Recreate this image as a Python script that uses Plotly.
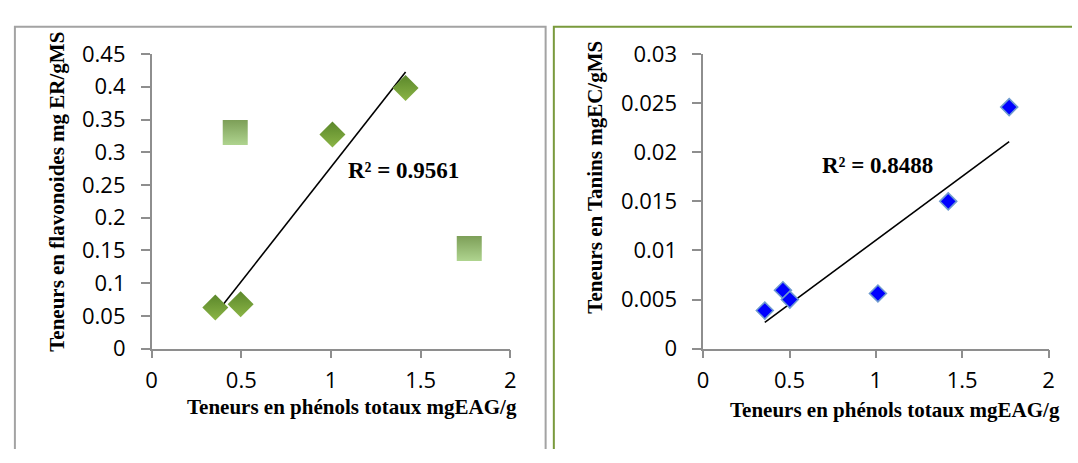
import numpy as np
import plotly.graph_objects as go

# Left panel: flavonoids vs total phenols
phenols_flav_fit = [0.355, 0.496, 1.008, 1.416]
flavonoides_fit = [0.063, 0.068, 0.327, 0.398]
phenols_flav_out = [0.466, 1.771]
flavonoides_out = [0.330, 0.153]

# Right panel: tannins vs total phenols
phenols_tan = [0.357, 0.462, 0.502, 1.012, 1.419, 1.772]
tanins = [0.00388, 0.00595, 0.00500, 0.00562, 0.01500, 0.02460]

r2_flav = "R² = 0.9561"
r2_tan = "R² = 0.8488"

x_ticks = [0, 0.5, 1, 1.5, 2]
x_ticktext = ["0", "0.5", "1", "1.5", "2"]
y1_ticks = [0, 0.05, 0.1, 0.15, 0.2, 0.25, 0.3, 0.35, 0.4, 0.45]
y1_ticktext = ["0", "0.05", "0.1", "0.15", "0.2", "0.25", "0.3", "0.35", "0.4", "0.45"]
y2_ticks = [0, 0.005, 0.01, 0.015, 0.02, 0.025, 0.03]
y2_ticktext = ["0", "0.005", "0.01", "0.015", "0.02", "0.025", "0.03"]

W, H = 1078, 463


def px(xp):
    return xp / W


def py(yp):
    return 1 - yp / H


def trend(xs, ys):
    slope, intercept = np.polyfit(xs, ys, 1)
    xe = np.array([min(xs), max(xs)])
    return xe, slope * xe + intercept


fig = go.Figure()

# trend lines
tx1, ty1 = trend(phenols_flav_fit, flavonoides_fit)
fig.add_trace(go.Scatter(x=tx1, y=ty1, mode="lines",
                         line=dict(color="black", width=1.6),
                         xaxis="x", yaxis="y", hoverinfo="skip"))
tx2, ty2 = trend(phenols_tan, tanins)
fig.add_trace(go.Scatter(x=tx2, y=ty2, mode="lines",
                         line=dict(color="black", width=1.6),
                         xaxis="x2", yaxis="y2", hoverinfo="skip"))

# markers
fig.add_trace(go.Scatter(x=phenols_flav_out, y=flavonoides_out, mode="markers",
                         marker=dict(symbol="square", size=25, color="#7D9F58",
                                     gradient=dict(type="vertical", color="#AFD48F"),
                                     line=dict(width=0)),
                         xaxis="x", yaxis="y"))
fig.add_trace(go.Scatter(x=phenols_flav_fit, y=flavonoides_fit, mode="markers",
                         marker=dict(symbol="diamond", size=20, color="#5B872B",
                                     gradient=dict(type="vertical", color="#8BB546"),
                                     line=dict(width=0)),
                         xaxis="x", yaxis="y"))
fig.add_trace(go.Scatter(x=phenols_tan, y=tanins, mode="markers",
                         marker=dict(symbol="diamond", size=13, color="#0000FF",
                                     line=dict(width=1.6, color="#6F9BD0")),
                         xaxis="x2", yaxis="y2"))

axis_common = dict(
    showgrid=False, zeroline=False, showline=True,
    linecolor="#8E8E8E", linewidth=1.5,
    ticks="outside", tickcolor="#8E8E8E", tickwidth=1.5,
    tickfont=dict(family="Open Sans", size=22, color="black"),
    fixedrange=True,
)

fig.update_layout(
    width=W, height=H,
    margin=dict(l=0, r=0, t=0, b=0),
    paper_bgcolor="white", plot_bgcolor="white",
    showlegend=False,
    xaxis=dict(domain=[px(147.3), px(510)], range=[0, 2], anchor="y",
               tickvals=x_ticks, ticktext=x_ticktext, ticklen=8,
               ticklabelstandoff=3, **axis_common),
    yaxis=dict(domain=[py(355.7), py(40.7)], range=[0, 0.45], anchor="x",
               tickvals=y1_ticks, ticktext=y1_ticktext, ticklen=9,
               ticklabelstandoff=11, **axis_common),
    xaxis2=dict(domain=[px(705), px(1054.3)], range=[0, 2], anchor="y2",
                tickvals=x_ticks, ticktext=x_ticktext, ticklen=8,
                ticklabelstandoff=3, **axis_common),
    yaxis2=dict(domain=[py(355.7), py(40.7)], range=[0, 0.03], anchor="x2",
                tickvals=y2_ticks, ticktext=y2_ticktext, ticklen=9,
                ticklabelstandoff=11, **axis_common),
)

title_font = dict(family="Liberation Serif", size=21, color="black")
r2_font = dict(family="Liberation Serif", size=23, color="black")

annotations = [
    dict(text="<b>Teneurs en flavonoides mg ER/gMS</b>", x=px(52), y=py(187.5),
         textangle=-90, font=title_font),
    dict(text="<b>Teneurs en phénols totaux mgEAG/g</b>", x=px(350), y=py(418),
         font=title_font),
    dict(text="<b>Teneurs en Tanins mgEC/gMS</b>", x=px(596), y=py(172.5),
         textangle=-90, font=title_font),
    dict(text="<b>Teneurs en phénols totaux mgEAG/g</b>", x=px(899), y=py(421.7),
         font=title_font),
]
for a in annotations:
    a.update(xref="paper", yref="paper", showarrow=False,
             xanchor="center", yanchor="middle")
    fig.add_annotation(**a)

fig.add_annotation(text=f"<b>{r2_flav}</b>", x=1.404, y=0.2724, xref="x", yref="y",
                   showarrow=False, font=r2_font, xanchor="center", yanchor="middle")
fig.add_annotation(text=f"<b>{r2_tan}</b>", x=1.012, y=0.01866, xref="x2", yref="y2",
                   showarrow=False, font=r2_font, xanchor="center", yanchor="middle")

# panel frames, open where they run past the figure edges
top = py(11.5)
fig.add_shape(type="path", xref="paper", yref="paper",
              path=f"M {px(9)} 0 L {px(9)} {top} L {px(545.7)} {top} L {px(545.7)} 0",
              line=dict(color="#A3A3A3", width=2), layer="below")
fig.add_shape(type="path", xref="paper", yref="paper",
              path=f"M {px(554)} 0 L {px(554)} {top} L 1 {top}",
              line=dict(color="#7A9A3C", width=2), layer="below")

fig.write_html("out.html")
